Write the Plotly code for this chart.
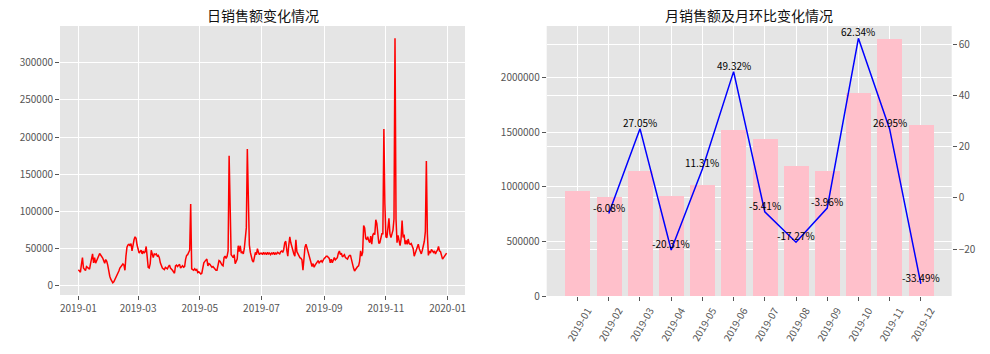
import pandas as pd
import plotly.graph_objects as go

# ---------------- data ----------------
dates = pd.date_range('2019-01-01', '2019-12-31', freq='D')

jan = [21600, 19000, 18500, 29000, 38000, 24000, 22000, 20500, 26000, 24500,
       23500, 22500, 30000, 36000, 43000, 31000, 38000, 30500, 34000, 37500,
       42000, 43500, 41500, 40000, 37500, 34000, 30500, 35500, 33000, 28000, 18000]
feb = [13000, 9000, 6000, 4200, 5500, 8000, 11000, 14000, 17000, 20000,
       24000, 26000, 28000, 29500, 28000, 21000, 40000, 52000, 55000, 56000,
       54000, 57000, 47000, 58000, 62000, 66000, 64000, 55000]
mar = [48000, 44000, 46000, 48000, 43000, 47000, 44000, 46000, 53000, 33000,
       25000, 24000, 30000, 48000, 42000, 38000, 43000, 42000, 43000, 40000,
       41000, 38000, 31000, 27000, 24000, 23000, 22000, 25000, 24000, 23000, 26000]
apr = [28000, 24000, 23000, 21000, 19000, 17000, 27000, 28000, 26000, 27000,
       29000, 24000, 26000, 27000, 25000, 26000, 36000, 41000, 42000, 45000,
       48000, 110000, 23000, 22000, 21000, 23000, 21000, 22000, 18000, 19000]
may = [17000, 16000, 17000, 27000, 31000, 33000, 34000, 36000, 27000, 30000,
       29000, 27000, 25000, 26000, 24000, 22000, 21000, 21000, 31000, 34000,
       33000, 30000, 28000, 27000, 38000, 40000, 37000, 40000, 47000, 175000, 70000]
jun = [42000, 40000, 38000, 42000, 30000, 33000, 36000, 54000, 46000, 54000,
       44000, 46000, 43000, 50000, 70000, 78000, 184000, 95000, 55000, 45000,
       38000, 34000, 32000, 40000, 45000, 42000, 50000, 45000, 42000, 44000]
jul = [44000, 42000, 45000, 43000, 44000, 42000, 45000, 43000, 44000, 42000,
       44000, 43000, 45000, 42000, 44000, 43000, 45000, 44000, 43000, 46000,
       47000, 45000, 49000, 58000, 60000, 48000, 40000, 55000, 66000, 58000, 53000]
aug = [46000, 43000, 40000, 62000, 46000, 43000, 41000, 38000, 37000, 35000,
       21000, 42000, 52000, 56000, 51000, 46000, 40000, 36000, 32000, 26000,
       30000, 25000, 28000, 30000, 31000, 34000, 31000, 32000, 34000, 32000, 35000]
sep = [37000, 38000, 40000, 40000, 39000, 37000, 31000, 36000, 31000, 35000,
       38000, 35000, 37000, 38000, 44000, 47000, 42000, 44000, 39000, 41000,
       42000, 38000, 37000, 36000, 39000, 41000, 41000, 34000, 28000, 24000]
octo = [20000, 22000, 25000, 26000, 27000, 33000, 47000, 40000, 45000, 81000,
        78000, 64000, 62000, 66000, 61000, 58000, 67000, 56000, 68000, 71000,
        69000, 89000, 84000, 66000, 57000, 58000, 65000, 70000, 70000, 211000, 110000]
nov = [66000, 65000, 78000, 91000, 70000, 65000, 70000, 75000, 90000, 333000,
       90000, 58000, 68000, 60000, 54000, 63000, 88000, 65000, 69000, 56000,
       61000, 56000, 63000, 57000, 56000, 57000, 53000, 50000, 40000, 46000]
dec = [48000, 52000, 56000, 50000, 45000, 43000, 48000, 55000, 60000, 73000,
       168000, 70000, 41000, 47000, 44000, 49000, 46000, 45000, 47000, 43000,
       46000, 48000, 53000, 47000, 46000, 38000, 36000, 38000, 40000, 42000, 44000]
daily_sales = jan + feb + mar + apr + may + jun + jul + aug + sep + octo + nov + dec

months = ['2019-01', '2019-02', '2019-03', '2019-04', '2019-05', '2019-06',
          '2019-07', '2019-08', '2019-09', '2019-10', '2019-11', '2019-12']
monthly_sales = [962000, 903500, 1147900, 914800, 1018200, 1520400,
                 1438200, 1189800, 1142700, 1855100, 2355000, 1566300]
mom_pct = [-6.08, 27.05, -20.31, 11.31, 49.32, -5.41, -17.27, -3.96, 62.34, 26.95, -33.49]

title_left = '日销售额变化情况'
title_right = '月销售额及月环比变化情况'

# ---------------- layout helpers ----------------
W, H = 990, 354
FONT = 'Noto Sans CJK SC, Noto Sans, sans-serif'
TICK = '#555555'
BG = '#E5E5E5'


def fx(p):
    return p / W


def fy(p):
    return 1 - p / H


def pad(lo, hi, f=0.05):
    r = hi - lo
    return [lo - r * f, hi + r * f]


fig = go.Figure()
fig.add_trace(go.Scatter(x=dates, y=daily_sales, mode='lines',
                         line=dict(color='#FF0000', width=1.5),
                         xaxis='x', yaxis='y', showlegend=False))
fig.add_trace(go.Bar(x=months, y=monthly_sales, width=0.8,
                     marker=dict(color='#FFC0CB', line=dict(width=0)),
                     xaxis='x2', yaxis='y2', showlegend=False))
fig.add_trace(go.Scatter(x=months[1:], y=mom_pct, mode='lines',
                         line=dict(color='#0000FF', width=1.5),
                         xaxis='x2', yaxis='y3', showlegend=False))

common = dict(showgrid=True, gridcolor='white', gridwidth=1, zeroline=False,
              showline=False, ticks='outside', ticklen=4, tickwidth=1,
              automargin=False,
              tickcolor=TICK, tickfont=dict(size=10, color=TICK, family=FONT))

d0 = pd.Timestamp('2019-01-01')
d1 = pd.Timestamp('2019-12-31')
span = (d1 - d0) * 0.05
ylo, yhi = pad(min(daily_sales), max(daily_sales))
bar_top = max(monthly_sales) * 1.05
plo, phi = pad(min(mom_pct), max(mom_pct))

fig.update_layout(
    width=W, height=H, margin=dict(l=0, r=0, t=0, b=0, autoexpand=False),
    paper_bgcolor='white', plot_bgcolor=BG,
    font=dict(family=FONT),
    bargap=0,
    xaxis=dict(domain=[fx(60), fx(465)], anchor='y', type='date',
               range=[d0 - span, d1 + span], dtick='M2', tick0='2019-01-01',
               tickformat='%Y-%m', **common),
    yaxis=dict(domain=[fy(295), fy(26)], anchor='x', range=[ylo, yhi],
               dtick=50000, tickformat='d', **common),
    xaxis2=dict(domain=[fx(546.7), fx(951.7)], anchor='y2', type='category',
                range=[-0.99, 11.99], tickangle=-60, ticklabelshift=10,
                **common),
    yaxis2=dict(domain=[fy(296), fy(26)], anchor='x2', range=[0, bar_top],
                dtick=500000, tickformat='d', **common),
    yaxis3=dict(overlaying='y2', side='right', anchor='x2', range=[plo, phi],
                dtick=20, **common),
)

annotations = [
    dict(text=title_left, x=(fx(60) + fx(465)) / 2, y=fy(15.5), xref='paper',
         yref='paper', showarrow=False, xanchor='center', yanchor='middle',
         font=dict(size=14, color='#111111', family=FONT)),
    dict(text=title_right, x=(fx(546.7) + fx(951.7)) / 2, y=fy(15.5), xref='paper',
         yref='paper', showarrow=False, xanchor='center', yanchor='middle',
         font=dict(size=14, color='#111111', family=FONT)),
]
for m, v in zip(months[1:], mom_pct):
    annotations.append(dict(text='%.2f%%' % v, x=m, y=v, xref='x2', yref='y3',
                            showarrow=False, xanchor='center', yanchor='bottom',
                            borderpad=0, yshift=-2,
                            font=dict(size=10, color='#000000', family=FONT)))
fig.update_layout(annotations=annotations)

fig.write_html('out.html')
